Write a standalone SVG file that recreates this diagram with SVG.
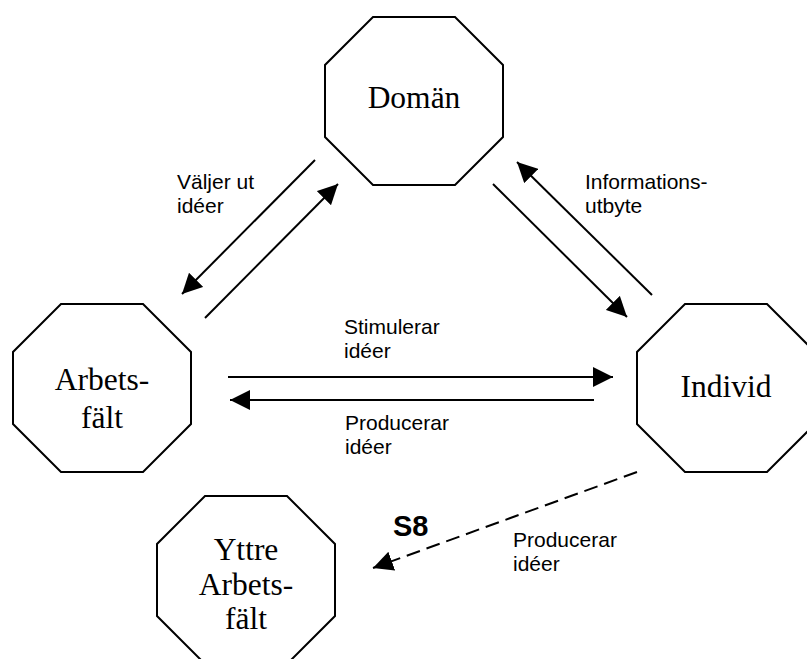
<svg xmlns="http://www.w3.org/2000/svg" width="807" height="659" viewBox="0 0 807 659">
<style>
.oct{fill:#fff;stroke:#000;stroke-width:2}
.nt{font-family:"Liberation Serif","Times New Roman",serif;font-size:31.5px;fill:#000;text-anchor:middle}
.lb{font-family:"Liberation Sans",Arial,sans-serif;font-size:21px;fill:#000}
.s8{font-family:"Liberation Sans",Arial,sans-serif;font-size:29px;font-weight:bold;fill:#000}
.ln{fill:none;stroke:#000;stroke-width:2;marker-end:url(#ah)}
.dash{stroke-dasharray:14 7}
</style>
<defs>
<marker id="ah" viewBox="0 0 20 20" refX="20" refY="10" markerWidth="20" markerHeight="20" markerUnits="userSpaceOnUse" orient="auto">
<path d="M0,0 L20,10 L0,20 z" fill="#000"/>
</marker>
</defs>
<rect width="807" height="659" fill="#fff"/>
<g id="doman">
<polygon class="oct" points="373,17 455,17 503,65 503,137 455,185 373,185 325,137 325,65"/>
<text class="nt" x="414" y="108">Domän</text>
</g>
<g id="arbetsfalt">
<polygon class="oct" points="61,304 143,304 191,352 191,424 143,472 61,472 13,424 13,352"/>
<text class="nt" x="102" y="390">Arbets-</text>
<text class="nt" x="102" y="428">fält</text>
</g>
<g id="individ">
<polygon class="oct" points="685,304 767,304 815,352 815,424 767,472 685,472 637,424 637,352"/>
<text class="nt" x="726" y="397">Individ</text>
</g>
<g id="yttre">
<polygon class="oct" points="205,496 287,496 335,544 335,616 287,664 205,664 157,616 157,544"/>
<text class="nt" x="246" y="560">Yttre</text>
<text class="nt" x="246" y="595">Arbets-</text>
<text class="nt" x="246" y="629">fält</text>
</g>
<g id="connectors">
<line class="ln" x1="315" y1="160" x2="182" y2="294"/>
<line class="ln" x1="205" y1="318" x2="338" y2="184"/>
<line class="ln" x1="493" y1="184" x2="627" y2="317"/>
<line class="ln" x1="652" y1="295" x2="517" y2="162"/>
<line class="ln" x1="228" y1="377" x2="613" y2="377"/>
<line class="ln" x1="594" y1="400" x2="230" y2="400"/>
<line class="ln dash" x1="637" y1="472" x2="373" y2="568"/>
</g>
<g id="labels">
<text class="lb" x="177" y="189">Väljer ut</text>
<text class="lb" x="177" y="213">idéer</text>
<text class="lb" x="585" y="189">Informations-</text>
<text class="lb" x="585" y="213">utbyte</text>
<text class="lb" x="344" y="334">Stimulerar</text>
<text class="lb" x="344" y="358">idéer</text>
<text class="lb" x="345" y="430">Producerar</text>
<text class="lb" x="345" y="454">idéer</text>
<text class="lb" x="513" y="547">Producerar</text>
<text class="lb" x="513" y="571">idéer</text>
<text class="s8" x="393" y="536">S8</text>
</g>
</svg>
